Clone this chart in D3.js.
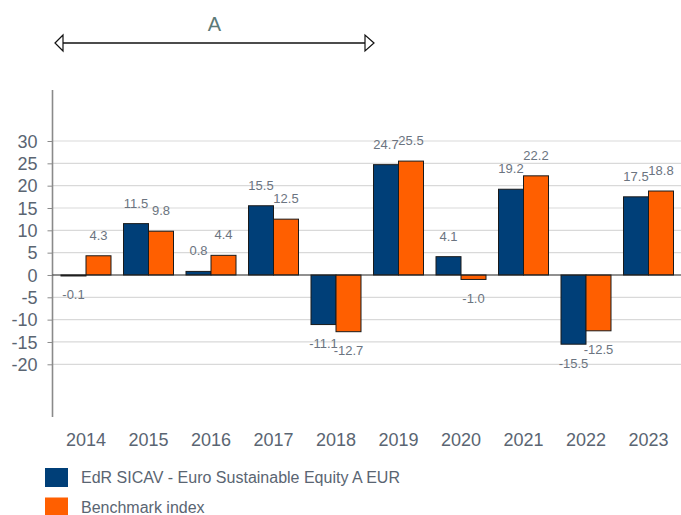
<!DOCTYPE html>
<html><head><meta charset="utf-8">
<script src="https://cdn.jsdelivr.net/npm/d3@7/dist/d3.min.js"></script>
<style>html,body{margin:0;padding:0;background:#fff;}svg{display:block;font-family:Arial,"Liberation Sans",sans-serif;}</style>
</head><body><svg id="c" width="681" height="515"></svg>
<script>
const years = ["2014","2015","2016","2017","2018","2019","2020","2021","2022","2023"];
const fund = [-0.1, 11.5, 0.8, 15.5, -11.1, 24.7, 4.1, 19.2, -15.5, 17.5];
const bench = [4.3, 9.8, 4.4, 12.5, -12.7, 25.5, -1.0, 22.2, -12.5, 18.8];
const yTicks = [30, 25, 20, 15, 10, 5, 0, -5, -10, -15, -20];
const seriesNames = ["EdR SICAV - Euro Sustainable Equity A EUR", "Benchmark index"];
const colors = ["#003f78", "#ff5f00"];
const periodLabel = "A";
const periodYears = ["2014", "2018"];

const hy = s => s.replace("\u2212", "-");
const fmtTick = d => hy(d3.format("d")(d));
const fmtVal = d => hy(d3.format(".1f")(d));

const svg = d3.select("#c");
const x = d3.scaleBand().domain(years).range([54.75, 679.75]).paddingInner(0.2).paddingOuter(0.1);
const x1 = d3.scaleBand().domain([0,1]).range([0, x.bandwidth()]);
const y = d3.scaleLinear().domain([-20, 30]).range([364.3, 141]);
const axisX = 52.5;
const textCol = "#5a6572";

// gridlines
svg.append("g").selectAll("line").data(yTicks.filter(d => d !== 0)).join("line")
  .attr("x1", axisX).attr("x2", 681).attr("y1", d => y(d)).attr("y2", d => y(d))
  .attr("stroke", "#d9d9d9").attr("stroke-width", 1.2);

// y axis
const yAxis = d3.axisLeft(y).tickValues(yTicks).tickSize(5).tickPadding(10).tickFormat(fmtTick);
const gy = svg.append("g").attr("transform", `translate(${axisX},0)`).call(yAxis);
gy.select(".domain").remove();
gy.selectAll(".tick line").attr("stroke", "#8a8a8a");
gy.selectAll(".tick text").attr("fill", textCol).attr("font-size", 18).attr("dy", "0.35em");
svg.append("line").attr("x1", axisX).attr("x2", axisX).attr("y1", 90).attr("y2", 417)
  .attr("stroke", "#8a8a8a").attr("stroke-width", 1.6);

// bars
const rows = years.map((yr, i) => [{yr, s:0, v:fund[i]}, {yr, s:1, v:bench[i]}]).flat();
svg.append("g").selectAll("rect").data(rows).join("rect")
  .attr("x", d => x(d.yr) + x1(d.s))
  .attr("width", x1.bandwidth())
  .attr("y", d => y(Math.max(0, d.v)))
  .attr("height", d => Math.max(1, Math.abs(y(d.v) - y(0))))
  .attr("fill", d => colors[d.s])
  .attr("stroke", "#1a1a1a").attr("stroke-width", 1);

// zero line
svg.append("line").attr("x1", axisX).attr("x2", 681).attr("y1", y(0)).attr("y2", y(0))
  .attr("stroke", "#222").attr("stroke-width", 1.2);

// value labels
svg.append("g").selectAll("text").data(rows).join("text")
  .attr("x", d => x(d.yr) + x1(d.s) + x1.bandwidth()/2)
  .attr("y", d => d.v >= 0 ? y(d.v) - 20.5 : y(d.v) + 19)
  .attr("dy", "0.35em").attr("text-anchor", "middle")
  .attr("font-size", 13).attr("fill", "#6b7480")
  .text(d => fmtVal(d.v));

// x labels
svg.append("g").selectAll("text").data(years).join("text")
  .attr("x", d => x(d) + x.bandwidth()/2).attr("y", 440).attr("dy", "0.35em")
  .attr("text-anchor", "middle").attr("font-size", 18).attr("fill", textCol).text(d => d);

// period arrow
const ax1 = x(periodYears[0]) - 6, ax2 = x(periodYears[1]) + x.bandwidth() + 13, ay = 43;
svg.append("line").attr("x1", ax1 + 8).attr("x2", ax2 - 9).attr("y1", ay).attr("y2", ay)
  .attr("stroke", "#111").attr("stroke-width", 1.5);
svg.append("path").attr("d", `M${ax1},${ay} L${ax1+8},${ay-8} L${ax1+8},${ay+8} Z`)
  .attr("fill", "#fff").attr("stroke", "#111").attr("stroke-width", 1.2);
svg.append("path").attr("d", `M${ax2},${ay} L${ax2-9},${ay-8} L${ax2-9},${ay+8} Z`)
  .attr("fill", "#fff").attr("stroke", "#111").attr("stroke-width", 1.2);
svg.append("text").attr("x", (ax1+ax2)/2).attr("y", 24).attr("dy", "0.35em")
  .attr("text-anchor", "middle").attr("font-size", 20).attr("fill", "#5c7a78").text(periodLabel);

// legend
const lg = svg.append("g").selectAll("g").data(seriesNames).join("g")
  .attr("transform", (d, i) => `translate(45, ${468 + i*29.5})`);
lg.append("rect").attr("width", 23).attr("height", 19).attr("fill", (d, i) => colors[i]);
lg.append("text").attr("x", 36).attr("y", 9.5).attr("dy", "0.35em")
  .attr("font-size", 16).attr("fill", textCol).text(d => d);
</script></body></html>
